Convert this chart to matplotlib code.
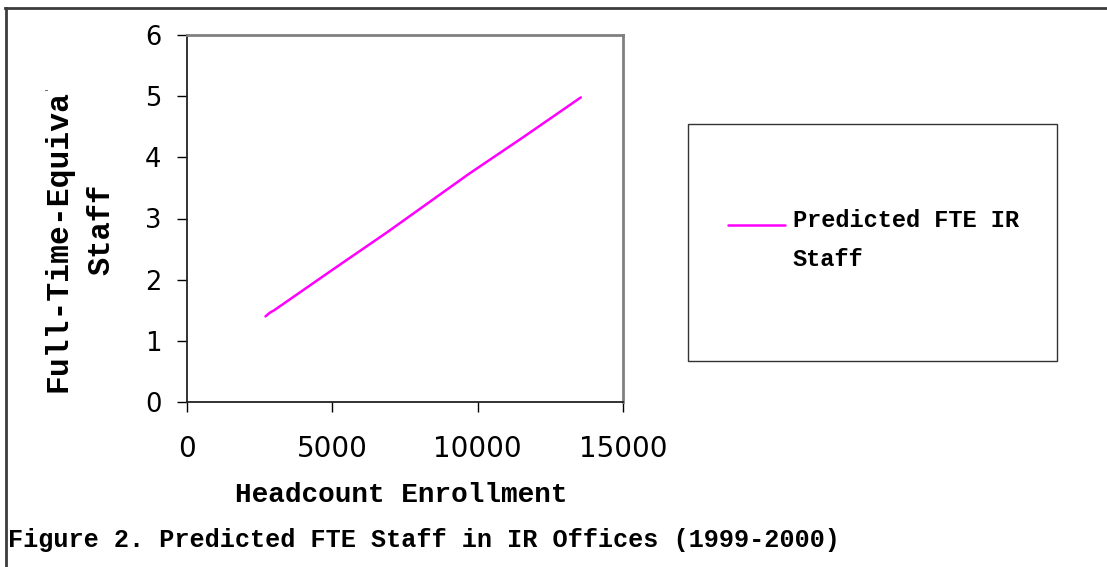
import matplotlib
matplotlib.use("Agg")
import matplotlib.pyplot as plt
from matplotlib.lines import Line2D
from matplotlib.patches import Rectangle
from matplotlib.transforms import Bbox, TransformedBbox

# ------------------ DATA ------------------
enrollment = [2700, 2850, 3000, 5000, 6900, 9700, 11600, 13550]
fte_staff = [1.40, 1.46, 1.50, 2.16, 2.78, 3.73, 4.34, 4.98]
x_ticks = [0, 5000, 10000, 15000]
y_ticks = [0, 1, 2, 3, 4, 5, 6]
series_label = "Predicted FTE IR\nStaff"
title = "Figure 2. Predicted FTE Staff in IR Offices (1999-2000)"
# ------------------------------------------

W, H = 1107, 567
mono = "Liberation Mono"

fig = plt.figure(figsize=(W / 100, H / 100), dpi=100, facecolor="white")

def fx(px):
    return px / W

def fy(py):
    return 1 - py / H

# plot area
ax = fig.add_axes([fx(187), fy(402), fx(623) - fx(187), fy(35) - fy(402)])
line, = ax.plot(enrollment, fte_staff, color="#FF00FF", linewidth=1.8,
                solid_capstyle="round", solid_joinstyle="round",
                label=series_label)

ax.set_xlim(0, 15000)
ax.set_ylim(0, 6)
ax.set_xticks(x_ticks)
ax.set_yticks(y_ticks)
ax.set_xticklabels([str(v) for v in x_ticks], fontsize=20, family="DejaVu Sans")
ax.set_yticklabels([str(v) for v in y_ticks], fontsize=18.5, family="DejaVu Sans")
ax.tick_params(axis="x", direction="out", length=7.5, width=1, pad=16)
ax.tick_params(axis="y", direction="out", length=7.5, width=1, pad=11)

for side in ["left", "bottom"]:
    ax.spines[side].set_color("#222222")
    ax.spines[side].set_linewidth(1.3)
for side in ["top", "right"]:
    ax.spines[side].set_color("#808080")
    ax.spines[side].set_linewidth(2)

# axis titles
fig.text(fx(401), fy(502), "Headcount Enrollment", ha="center", va="baseline",
         fontsize=20, family=mono, fontweight="bold")

# first line of the y title is cut off at the top, as in the original
ylab = fig.text(fx(59), fy(392), "Full-Time-Equivalent", rotation=90,
                ha="center", va="bottom", fontsize=22.6, family=mono,
                fontweight="bold")
ylab.set_clip_box(TransformedBbox(Bbox.from_extents(0, 0, 1, fy(90)),
                                  fig.transFigure))
ylab.set_clip_on(True)
fig.text(fx(101), fy(229), "Staff", rotation=90, ha="center", va="center",
         fontsize=22, family=mono, fontweight="bold")

# legend box + legend
fig.add_artist(Rectangle((fx(688), fy(361)), fx(1057) - fx(688), fy(124) - fy(361),
                         transform=fig.transFigure, fill=False,
                         edgecolor="#333333", linewidth=1))
leg = fig.legend(handles=[line], loc="center left",
                 bbox_to_anchor=(fx(728), fy(240)), frameon=False,
                 borderpad=0, borderaxespad=0, handlelength=2.4,
                 handletextpad=0.35,
                 prop={"family": mono, "weight": "bold", "size": 17})
for t in leg.get_texts():
    t.set_linespacing(1.85)
# line sample sits level with the first text line
for h in leg.get_lines():
    h.set_ydata([v + 11.5 for v in h.get_ydata()])

# caption
fig.text(fx(8), fy(547), title, ha="left", va="baseline", fontsize=18.2,
         family=mono, fontweight="bold")

# outer frame (top and left edges visible)
fig.add_artist(Line2D([fx(5), 1], [fy(7.5), fy(7.5)], transform=fig.transFigure,
                      color="#3c3c3c", linewidth=2))
fig.add_artist(Line2D([fx(5.5), fx(5.5)], [0, fy(7.5)], transform=fig.transFigure,
                      color="#3c3c3c", linewidth=2))

fig.savefig("out.png", dpi=100, facecolor="white")
